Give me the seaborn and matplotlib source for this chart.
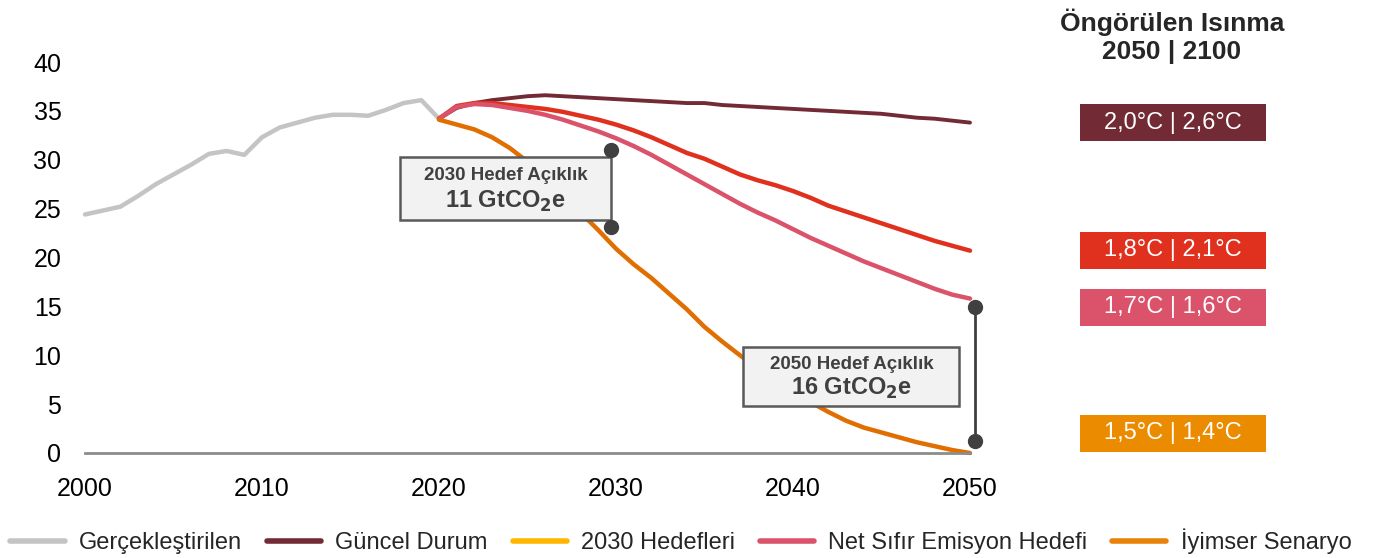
import numpy as np
import pandas as pd
import matplotlib as mpl
import matplotlib.pyplot as plt
from matplotlib.patches import Rectangle
from matplotlib.lines import Line2D
import seaborn as sns

sns.set_style("white")
plt.rcParams['font.family'] = ['Liberation Sans', 'DejaVu Sans']

# data (GtCO2e)
hist_years = list(range(2000, 2021))
hist_vals = [24.4, 24.8, 25.2, 26.3, 27.5, 28.5, 29.5, 30.6, 30.9, 30.5, 32.3,
             33.3, 33.8, 34.3, 34.6, 34.6, 34.5, 35.1, 35.8, 36.1, 34.2]

proj_years = list(range(2020, 2051))
guncel = [34.2, 35.3, 35.8, 36.1, 36.3, 36.5, 36.6, 36.5, 36.4, 36.3, 36.2,
          36.1, 36.0, 35.9, 35.8, 35.8, 35.6, 35.5, 35.4, 35.3, 35.2,
          35.1, 35.0, 34.9, 34.8, 34.7, 34.5, 34.3, 34.2, 34.0, 33.8]
hedef_2030 = [34.2, 35.5, 35.8, 35.8, 35.6, 35.4, 35.2, 34.9, 34.5, 34.1, 33.6,
              33.0, 32.3, 31.5, 30.7, 30.1, 29.3, 28.5, 27.9, 27.4, 26.8,
              26.1, 25.3, 24.7, 24.1, 23.5, 22.9, 22.3, 21.7, 21.2, 20.7]
net_sifir = [34.2, 35.4, 35.7, 35.6, 35.3, 35.0, 34.6, 34.1, 33.5, 32.9, 32.2,
             31.4, 30.5, 29.5, 28.5, 27.5, 26.5, 25.5, 24.6, 23.8, 22.9,
             22.0, 21.2, 20.4, 19.6, 18.9, 18.2, 17.5, 16.8, 16.2, 15.8]
iyimser = [34.1, 33.6, 33.1, 32.3, 31.2, 29.8, 28.3, 26.5, 24.6, 22.8, 20.9,
           19.3, 17.9, 16.3, 14.7, 12.9, 11.4, 10.0, 8.7, 7.5, 6.3,
           5.2, 4.2, 3.3, 2.6, 2.1, 1.6, 1.1, 0.7, 0.3, 0.0]

gap_2030 = (2029.7, 23.1, 31.0)
gap_2050 = (2050.3, 1.2, 14.9)

warming_labels = ["2,0°C | 2,6°C", "1,8°C | 2,1°C", "1,7°C | 1,6°C", "1,5°C | 1,4°C"]
warming_colors = ["#722A35", "#E0301E", "#DB536A", "#EB8C00"]
warming_y = [122.5, 250, 307.5, 433]  # pixel centres of label boxes

legend_names = ["Gerçekleştirilen", "Güncel Durum", "2030 Hedefleri",
                "Net Sıfır Emisyon Hedefi", "İyimser Senaryo"]
legend_colors = ["#C4C4C4", "#722A35", "#FFB600", "#DB536A", "#E8830A"]

W, H = 1384, 558
fig = plt.figure(figsize=(W / 100, H / 100), dpi=100)
ax = fig.add_axes([85 / W, 1 - 453 / H, (970 - 85) / W, (453 - 62) / H])

sns.lineplot(x=hist_years, y=hist_vals, color="#C4C4C4", lw=3.2, ax=ax)
sns.lineplot(x=proj_years, y=guncel, color="#722A35", lw=2.8, ax=ax)
sns.lineplot(x=proj_years, y=hedef_2030, color="#E0301E", lw=3.2, ax=ax)
sns.lineplot(x=proj_years, y=net_sifir, color="#DB536A", lw=3.2, ax=ax)
sns.lineplot(x=proj_years, y=iyimser, color="#E06E00", lw=3.2, ax=ax)

for l in ax.lines:
    l.set_clip_on(False)
    l.set_solid_joinstyle("round")

ax.set_xlim(2000, 2050)
ax.set_ylim(0, 40)
ax.set_xticks(range(2000, 2051, 10))
ax.set_yticks(range(0, 41, 5))
ax.tick_params(axis="both", labelsize=18, length=0, colors="black")
ax.tick_params(axis="x", pad=17)
ax.tick_params(axis="y", pad=17)
for s in ["top", "right", "left"]:
    ax.spines[s].set_visible(False)
ax.spines["bottom"].set_color("#8C8C8C")
ax.spines["bottom"].set_linewidth(2)

# gap markers
ax.plot([gap_2050[0]] * 2, gap_2050[1:], color="#404040", lw=2, clip_on=False, zorder=5)
for yr, lo, hi in [gap_2030, gap_2050]:
    ax.plot([yr] * 2, [lo, hi], "o", color="#404040", ms=10, clip_on=False, zorder=6)

# annotation boxes (data coordinates)
def gap_box(x0, x1, y0, y1, title, value):
    ax.add_patch(Rectangle((x0, y0), x1 - x0, y1 - y0, facecolor="#F2F2F2",
                           edgecolor="#595959", lw=1.8, zorder=5, clip_on=False))
    xc = (x0 + x1) / 2
    ax.text(xc, y0 + (y1 - y0) * 0.70, title, ha="center", va="center",
            fontsize=13.5, fontweight="bold", color="#404040", zorder=6)
    ax.text(xc, y0 + (y1 - y0) * 0.30, value, ha="center", va="center",
            fontsize=17, fontweight="bold", color="#404040", zorder=6)

gap_box(2017.8, 2029.7, 23.8, 30.3, "2030 Hedef Açıklık", "11 GtCO$_\\mathbf{2}$e")
gap_box(2037.2, 2049.4, 4.8, 10.85, "2050 Hedef Açıklık", "16 GtCO$_\\mathbf{2}$e")

# right-hand warming labels
fig.text(1172 / W, 1 - 36 / H, "Öngörülen Isınma\n2050 | 2100", ha="center", va="center",
         fontsize=19, fontweight="bold", linespacing=1.2)
for lab, col, yc in zip(warming_labels, warming_colors, warming_y):
    fig.patches.append(Rectangle((1080 / W, 1 - (yc + 18.5) / H), 186 / W, 37 / H,
                                 transform=fig.transFigure, facecolor=col, edgecolor="none"))
    fig.text(1173 / W, 1 - yc / H, lab, ha="center", va="center", color="white", fontsize=17)

handles = [Line2D([], [], color=c, lw=4) for c in legend_colors]
fig.legend(handles, legend_names, loc="center", bbox_to_anchor=(0.492, 1 - 541 / H),
           ncol=5, frameon=False, fontsize=17, handlelength=2.3, columnspacing=1.05,
           handletextpad=0.6)

fig.savefig("out.png", dpi=100)
